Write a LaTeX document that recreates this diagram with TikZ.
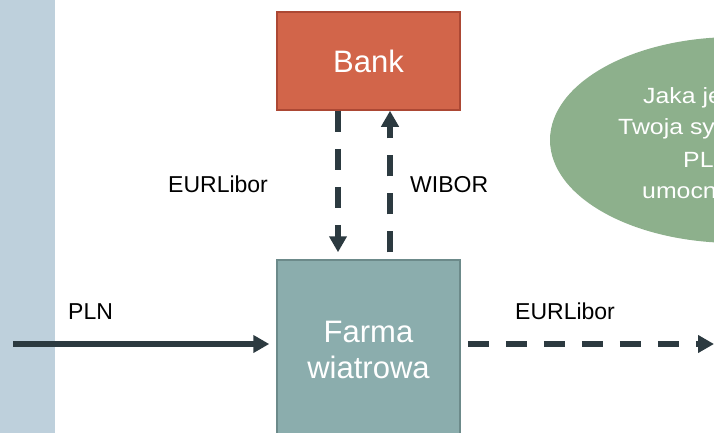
\documentclass[tikz,border=0pt]{standalone}
\usepackage{fontspec}
\setmainfont{Liberation Sans}
\usetikzlibrary{arrows.meta}
\definecolor{strip}{RGB}{190,208,220}
\definecolor{bankfill}{RGB}{210,101,74}
\definecolor{bankedge}{RGB}{172,72,52}
\definecolor{farmfill}{RGB}{139,173,173}
\definecolor{farmedge}{RGB}{108,138,138}
\definecolor{ovalfill}{RGB}{141,176,140}
\definecolor{flow}{RGB}{44,58,64}
% slightly widened lettering for the oval
\newcommand{\widetext}[1]{\scalebox{1.13}[1]{#1}}
\tikzset{
  box/.style={draw, line width=1.5pt, minimum width=183pt, inner sep=0pt,
              text=white, align=center, font=\fontsize{31}{36}\selectfont},
  lbl/.style={anchor=base west, inner sep=0pt, text=black,
              font=\fontsize{23}{27}\selectfont},
  qline/.style={anchor=base west, inner sep=0pt, text=white,
                font=\fontsize{22}{27}\selectfont},
  flowline/.style={draw=flow, line width=5.5pt,
                   -{Triangle[width=17pt,length=16pt]}},
  dashflow/.style={flowline, dash pattern=on 21pt off 17pt},
}
\begin{document}
\begin{tikzpicture}[x=1pt,y=-1pt]
  \useasboundingbox (0,0) rectangle (714,433);
  \clip (0,0) rectangle (714,433);
  % side strip
  \fill[strip] (0,0) rectangle (55,433);
  % question oval
  \fill[ovalfill] (735,140) ellipse [x radius=185, y radius=103];
  \node[qline] (q1) at (643,103) {\widetext{Jaka jest}};
  \node[qline] (q2) at (618,135) {\widetext{Twoja sytuacja}};
  \node[qline] (q3) at (683,167) {\widetext{PLN się}};
  \node[qline] (q4) at (642,198) {\widetext{umocni?}};
  % boxes
  \node[box, fill=bankfill, draw=bankedge, minimum height=98pt] (bank) at (368.5,61) {Bank};
  \node[box, fill=farmfill, draw=farmedge, minimum height=180pt] (farma) at (368.5,350) {Farma\\wiatrowa};
  % flows between bank and farm
  \draw[dashflow, shorten >=7pt] ([xshift=-30.5pt]bank.south) -- ([xshift=-30.5pt]farma.north);
  \draw[dashflow, shorten <=7pt] ([xshift=21.5pt]farma.north) -- ([xshift=21.5pt]bank.south);
  \node[lbl] (eurL) at (168,192) {EURLibor};
  \node[lbl] (wibor) at (410,192) {WIBOR};
  % horizontal flows
  \coordinate (in) at (13,344);
  \coordinate (out) at (714,344);
  \draw[flowline, shorten >=7pt] (in) -- ([yshift=6pt]farma.west);
  \draw[dashflow, shorten <=7pt] ([yshift=6pt]farma.east) -- (out);
  \node[lbl] (pln) at (68,319) {PLN};
  \node[lbl] (eurR) at (515,319) {EURLibor};
\end{tikzpicture}
\end{document}
